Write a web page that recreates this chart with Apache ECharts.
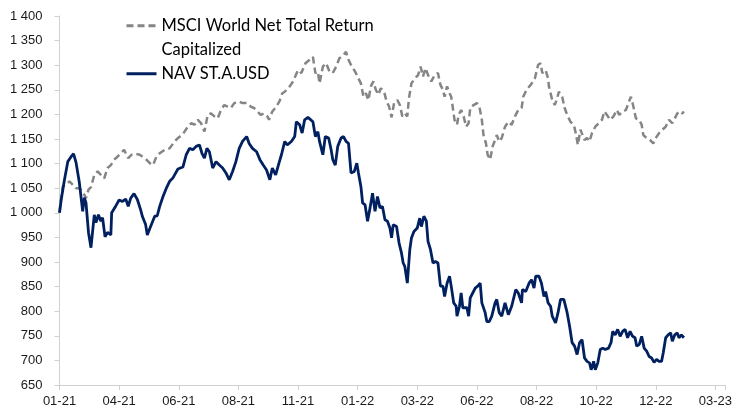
<!DOCTYPE html>
<html>
<head>
<meta charset="utf-8">
<script src="https://cdn.jsdelivr.net/npm/echarts@6/dist/echarts.min.js"></script>
<style>html,body{margin:0;padding:0;background:#fff}#c{width:735px;height:408px}</style>
</head>
<body>
<div id="c"></div>
<script>
// x values: calendar days since start of series; ticks every 72 days
const tickLabels = ['01-21','04-21','06-21','08-21','11-21','01-22','03-22','06-22','08-22','10-22','12-22','03-23'];
const yTicks = { min: 650, max: 1400, step: 50 };

const navName = 'NAV ST.A.USD';
const msciName = 'MSCI World Net Total Return\nCapitalized';

const navDays = [0,2,6,10,14,17,20,24,28,30,32,35,38,42,44,47,50,52,55,58,62,63,68,72,76,80,83,86,90,94,98,100,104,106,110,115,118,121,125,129,133,137,139,143,149,153,157,161,165,169,172,175,178,181,185,189,193,197,201,205,209,213,217,221,226,229,233,238,242,246,250,254,257,261,265,268,272,275,280,284,286,290,293,296,300,302,306,309,312,314,318,321,325,328,330,333,336,340,343,346,349,352,356,359,361,364,366,369,372,375,378,381,384,387,390,393,396,399,401,403,407,410,413,415,417,420,423,425,428,432,435,437,440,443,445,448,451,454,457,460,463,465,468,471,473,476,479,480,483,485,487,489,492,494,496,499,502,505,508,510,514,516,519,522,526,528,531,534,538,542,546,551,554,558,559,563,567,570,573,575,579,582,585,587,590,593,595,599,602,605,609,613,616,619,622,625,628,631,634,637,640,642,645,647,650,653,656,659,663,666,668,671,674,677,680,683,686,689,692,695,697,700,703,706,709,712,715,718,721,724,727,729,732,735,738,740,743,746,748,751,754];
const navValues = [1000,1026,1067,1104,1114,1120,1102,1061,1003,1031,1020,960,929,996,980,996,983,990,951,960,955,1000,1014,1026,1023,1028,1013,1030,1039,1027,1006,993,976,955,972,993,994,1013,1033,1050,1064,1071,1077,1089,1093,1118,1131,1128,1135,1138,1121,1111,1131,1124,1091,1104,1097,1091,1081,1067,1084,1104,1131,1145,1155,1141,1131,1124,1108,1097,1087,1067,1091,1077,1101,1118,1145,1138,1145,1155,1185,1179,1162,1189,1194,1197,1185,1155,1165,1145,1118,1155,1152,1128,1108,1097,1135,1152,1155,1145,1141,1081,1084,1101,1081,1053,1020,1016,983,1010,1040,1003,1033,1010,1013,986,983,969,949,976,972,939,918,898,891,857,925,949,962,969,989,972,993,983,942,925,898,901,898,851,851,830,857,871,851,817,810,790,810,837,807,810,807,790,827,837,847,851,857,817,797,779,779,790,817,824,797,790,817,793,810,844,837,817,844,840,857,864,847,871,871,857,830,840,817,810,790,776,797,824,824,797,769,736,729,712,736,742,705,698,695,681,698,681,695,722,725,722,725,736,759,752,763,749,759,763,746,759,749,746,729,732,749,725,719,708,705,696,702,698,698,715,746,752,756,739,752,756,746,752,746];

const msciDays = [0,2,4,8,12,16,20,24,28,32,35,38,42,46,50,54,58,62,66,70,74,78,80,83,87,92,97,101,105,109,113,117,121,127,133,139,143,148,151,155,159,163,167,171,175,179,183,187,191,195,199,203,207,211,217,221,227,231,235,239,243,247,251,253,257,262,266,269,272,278,282,288,292,297,302,306,309,312,314,318,322,326,330,334,338,343,346,349,353,357,361,364,367,370,373,376,379,382,385,388,392,395,398,401,404,408,411,414,417,420,422,425,429,433,436,439,442,445,449,453,457,460,463,465,468,471,473,475,477,480,482,485,488,491,494,496,500,504,507,510,512,515,517,520,523,526,528,531,534,538,542,546,550,554,558,560,564,569,574,578,581,583,587,590,591,595,598,601,603,607,610,613,617,621,623,626,629,631,634,637,640,643,647,651,655,658,661,665,669,673,676,680,684,687,690,693,696,700,703,705,709,713,717,720,724,728,732,736,740,743,746,749,752,754];
const msciValues = [1000,1030,1054,1057,1064,1057,1050,1050,1043,1030,1047,1052,1077,1084,1077,1070,1091,1097,1108,1114,1121,1128,1121,1111,1118,1120,1118,1113,1108,1101,1097,1114,1121,1128,1131,1145,1152,1158,1165,1175,1182,1179,1189,1182,1165,1199,1202,1196,1192,1209,1219,1216,1213,1223,1226,1223,1223,1216,1213,1206,1199,1202,1196,1189,1206,1216,1228,1243,1246,1257,1267,1290,1284,1304,1311,1317,1284,1287,1263,1297,1304,1287,1284,1297,1314,1321,1327,1311,1297,1287,1273,1263,1236,1243,1229,1257,1267,1250,1240,1253,1246,1226,1216,1194,1223,1229,1219,1196,1202,1196,1233,1263,1273,1280,1297,1277,1294,1280,1267,1280,1284,1260,1250,1236,1257,1243,1236,1213,1189,1179,1199,1209,1196,1175,1182,1213,1219,1223,1216,1189,1158,1141,1118,1108,1135,1148,1158,1145,1152,1175,1185,1179,1196,1209,1213,1236,1250,1260,1273,1301,1304,1284,1290,1273,1257,1229,1219,1233,1246,1236,1213,1199,1185,1179,1165,1138,1169,1165,1148,1152,1145,1162,1175,1182,1189,1206,1199,1189,1196,1209,1199,1206,1209,1223,1236,1216,1192,1189,1179,1158,1152,1148,1141,1152,1162,1169,1175,1189,1182,1192,1202,1206,1202,1206];

const tickDays = 72;

function zip(xs, ys) { return xs.map((x, i) => [x, ys[i]]); }
function fmtThousands(v) {
  if (v >= 1000) { const r = v % 1000; return Math.floor(v / 1000) + ' ' + String(r).padStart(3, '0'); }
  return String(v);
}

const chart = echarts.init(document.getElementById('c'), null, { renderer: 'canvas' });
const axisFont = { fontFamily: 'Liberation Sans', fontSize: 13, color: '#1a1a1a' };
chart.setOption({
  animation: false,
  backgroundColor: '#ffffff',
  grid: { left: 59.5, right: 8, top: 16, bottom: 22.5, containLabel: false },
  legend: {
    orient: 'vertical',
    left: 125,
    top: -9.5,
    padding: 0,
    itemGap: 1,
    itemWidth: 30,
    itemHeight: 14,
    selectedMode: false,
    itemStyle: { opacity: 0 },
    lineStyle: { width: 3 },
    textStyle: { fontFamily: 'Lato', fontSize: 16.5, color: '#000', lineHeight: 23.5 },
    // blank first line keeps the icon level with the first text line
    formatter: function (name) { return name === msciName ? ' \n' + name : name; },
    data: [ { name: msciName }, { name: navName } ]
  },
  xAxis: {
    type: 'value',
    min: 0,
    max: 804,
    interval: tickDays,
    splitLine: { show: false },
    axisLine: { show: true, lineStyle: { color: '#d0d0d0', width: 1 } },
    axisTick: { show: true, length: 5, lineStyle: { color: '#d0d0d0' } },
    axisLabel: Object.assign({
      margin: 10,
      showMaxLabel: true,
      formatter: function (v) {
        const i = v / tickDays;
        return Number.isInteger(i) && tickLabels[i] ? tickLabels[i] : '';
      }
    }, axisFont)
  },
  yAxis: {
    type: 'value',
    min: yTicks.min,
    max: yTicks.max,
    interval: yTicks.step,
    splitLine: { show: false },
    axisLine: { show: true, lineStyle: { color: '#d0d0d0', width: 1 } },
    axisTick: { show: true, length: 5, lineStyle: { color: '#d0d0d0' } },
    axisLabel: Object.assign({ margin: 17, formatter: fmtThousands }, axisFont)
  },
  series: [
    {
      name: msciName,
      type: 'line',
      data: zip(msciDays, msciValues),
      symbol: 'none',
      showSymbol: false,
      lineStyle: { color: '#858585', width: 2.5, type: [7, 4] },
      itemStyle: { color: '#858585' },
      z: 2
    },
    {
      name: navName,
      type: 'line',
      data: zip(navDays, navValues),
      symbol: 'none',
      showSymbol: false,
      lineStyle: { color: '#002060', width: 2.8 },
      itemStyle: { color: '#002060' },
      z: 3
    }
  ]
});
</script>
</body>
</html>
